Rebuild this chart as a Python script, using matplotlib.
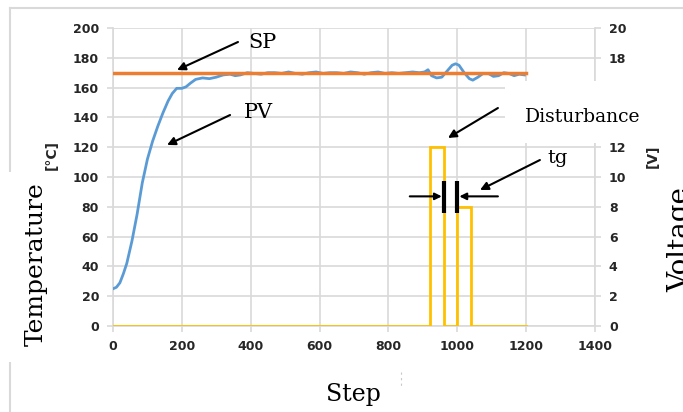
import matplotlib
matplotlib.use("Agg")
import matplotlib.pyplot as plt
from matplotlib.patches import Rectangle
from matplotlib.lines import Line2D

# ---------------- data ----------------
pv_steps = [0, 10, 20, 30, 40, 55, 70, 85, 100, 115, 130, 145, 160, 172, 185, 200, 212, 225,
            240, 260, 280, 300, 320, 340, 355, 370, 390, 410, 430, 450, 470, 490, 510, 530,
            550, 570, 590, 610, 630, 650, 670, 690, 710, 730, 750, 770, 790, 810, 830, 850,
            870, 890, 905, 915, 925, 940, 955, 970, 985, 995, 1005, 1020, 1035, 1045, 1060,
            1075, 1090, 1105, 1120, 1135, 1150, 1165, 1180, 1195]
pv_values = [25, 26, 29, 35, 42, 57, 75, 96, 112, 124, 134, 143, 151, 156, 159.5, 159.5, 160.5, 163,
             165.5, 166.5, 166, 167, 168.5, 169, 168, 168.5, 170, 169.5, 169, 170, 170, 169.5, 170.5, 169.5,
             169, 170, 170.5, 169.5, 170, 170, 169.5, 170.5, 170, 169, 170, 170.5, 169.5, 170, 169.5, 170,
             170.5, 170, 170.5, 172, 168, 166.5, 167, 171, 175, 176, 175, 170, 166, 165, 167,
             169.5, 169.5, 167.5, 168, 170, 169.5, 168, 169, 168.5]

sp_steps = [0, 1200]
sp_values = [170, 170]

dist_steps = [0, 920, 920, 960, 960, 1000, 1000, 1040, 1040, 1200]
dist_values = [0, 0, 12, 12, 0, 0, 8, 8, 0, 0]

x_ticks = [0, 200, 400, 600, 800, 1000, 1200, 1400]
temp_ticks = [0, 20, 40, 60, 80, 100, 120, 140, 160, 180, 200]
volt_ticks = [0, 2, 4, 6, 8, 10, 12, 14, 16, 18, 20]

tg_edges = [960, 1000]

# ---------------- figure ----------------
W, H = 683, 412
fig = plt.figure(figsize=(W / 100, H / 100), dpi=100)
fig.patch.set_facecolor("white")

def fx(px):
    return px / W

def fy(py):
    return 1 - py / H

grid_c = "#d9d9d9"
tick_c = "#262626"

ax = fig.add_axes([fx(113), fy(326), fx(595) - fx(113), fy(28) - fy(326)])
ax2 = ax.twinx()

ax.set_xlim(0, 1400)
ax.set_ylim(0, 200)
ax2.set_ylim(0, 20)
ax.set_xticks(x_ticks)
ax.set_yticks(temp_ticks)
ax2.set_yticks(volt_ticks)

ax.grid(True, color=grid_c, lw=1.2)
ax.set_axisbelow(True)

for a in (ax, ax2):
    for s in a.spines.values():
        s.set_visible(False)
ax.spines["left"].set_visible(True)
ax.spines["left"].set_color(grid_c)
ax.spines["left"].set_linewidth(1.2)
ax.spines["bottom"].set_visible(True)
ax.spines["bottom"].set_color(grid_c)
ax.spines["bottom"].set_linewidth(1.2)
ax2.spines["right"].set_visible(True)
ax2.spines["right"].set_color(grid_c)
ax2.spines["right"].set_linewidth(1.2)

ax.tick_params(axis="both", colors=grid_c, length=4, width=1.2, labelcolor=tick_c,
               labelsize=9, pad=6)
ax2.tick_params(axis="y", colors=grid_c, length=4, width=1.2, labelcolor=tick_c,
                labelsize=9, pad=6)
for lab in ax.get_xticklabels() + ax.get_yticklabels() + ax2.get_yticklabels():
    lab.set_fontweight("bold")
    lab.set_family("DejaVu Sans")

# series
ax2.plot(dist_steps, dist_values, color="#FFC000", lw=2, solid_joinstyle="miter", zorder=2)
ax.plot(pv_steps, pv_values, color="#5B9BD5", lw=2, zorder=3)
ax.plot(sp_steps, sp_values, color="#ED7D31", lw=2.5, zorder=4)

# tg markers (black bars) on voltage axis
for e in tg_edges:
    ax2.plot([e, e], [7.6, 9.7], color="black", lw=3, solid_capstyle="butt", zorder=5)
ax2.annotate("", xy=(955, 8.7), xytext=(862, 8.7),
             arrowprops=dict(arrowstyle="-|>", color="black", lw=1.5, mutation_scale=10,
                             shrinkA=0, shrinkB=0), zorder=6)
ax2.annotate("", xy=(1006, 8.7), xytext=(1118, 8.7),
             arrowprops=dict(arrowstyle="-|>", color="black", lw=1.5, mutation_scale=10,
                             shrinkA=0, shrinkB=0), zorder=6)

arrow_kw = dict(arrowstyle="-|>", color="black", lw=1.5, mutation_scale=12, shrinkA=0, shrinkB=0)
serif = "DejaVu Serif"

ax2.annotate("", xy=(186, 171.8), xytext=(363, 190.6), xycoords=ax.transData,
             textcoords=ax.transData, arrowprops=arrow_kw, zorder=6)
ax2.annotate("", xy=(157, 121.5), xytext=(340, 141.6), xycoords=ax.transData,
             textcoords=ax.transData, arrowprops=arrow_kw, zorder=6)
ax2.annotate("", xy=(973, 126.2), xytext=(1118, 146.3), xycoords=ax.transData,
             textcoords=ax.transData, arrowprops=arrow_kw, zorder=6)
ax2.annotate("", xy=(1066, 91.3), xytext=(1240, 111.4), xycoords=ax.transData,
             textcoords=ax.transData, arrowprops=arrow_kw, zorder=6)

ax2.text(433, 190.5, "SP", transform=ax.transData, family=serif, fontsize=15,
         ha="center", va="center", color="black", zorder=7)
ax2.text(421, 143, "PV", transform=ax.transData, family=serif, fontsize=15,
         ha="center", va="center", color="black", zorder=7)
ax2.text(1290, 113, "tg", transform=ax.transData, family=serif, fontsize=14,
         ha="center", va="center", color="black", zorder=7)

# outer chart border
fig.add_artist(Line2D([fx(10), fx(10)], [fy(8), fy(412)], color=grid_c, lw=1.5, zorder=1))
fig.add_artist(Line2D([fx(10), fx(683)], [fy(8), fy(8)], color=grid_c, lw=1.5, zorder=1))

# axis unit labels
fig.text(fx(52), fy(155), "[°C]", rotation=90, fontsize=10, fontweight="bold",
         color=tick_c, ha="center", va="center", zorder=4)
fig.text(fx(653), fy(156), "[V]", rotation=90, fontsize=10, fontweight="bold",
         color=tick_c, ha="center", va="center", zorder=4)

# white label patches
def wbox(x0, y0, x1, y1):
    fig.add_artist(Rectangle((fx(x0), fy(y1)), fx(x1) - fx(x0), fy(y0) - fy(y1),
                             facecolor="white", edgecolor="none", zorder=8,
                             transform=fig.transFigure))

wbox(0, 172, 64, 362)
wbox(505, 81, 683, 143)
wbox(640, 170, 683, 412)

fig.text(fx(36), fy(264), "Temperature", rotation=90, family=serif, fontsize=18,
         ha="center", va="center", color="black", zorder=9)
fig.text(fx(681), fy(240), "Voltage", rotation=90, family=serif, fontsize=20,
         ha="center", va="center", color="black", zorder=9)
fig.text(fx(353), fy(394), "Step", family=serif, fontsize=17,
         ha="center", va="center", color="black", zorder=9)
fig.text(fx(525), fy(117), "Disturbance", family=serif, fontsize=13.5,
         ha="left", va="center", color="black", zorder=9)

# small stray mark under the plot
fig.add_artist(Line2D([fx(401), fx(401)], [fy(372), fy(388)], color="#c8c8c8", lw=0.8,
                      ls=(0, (2, 3)), zorder=9))

fig.savefig("out.png", dpi=100, facecolor="white")
